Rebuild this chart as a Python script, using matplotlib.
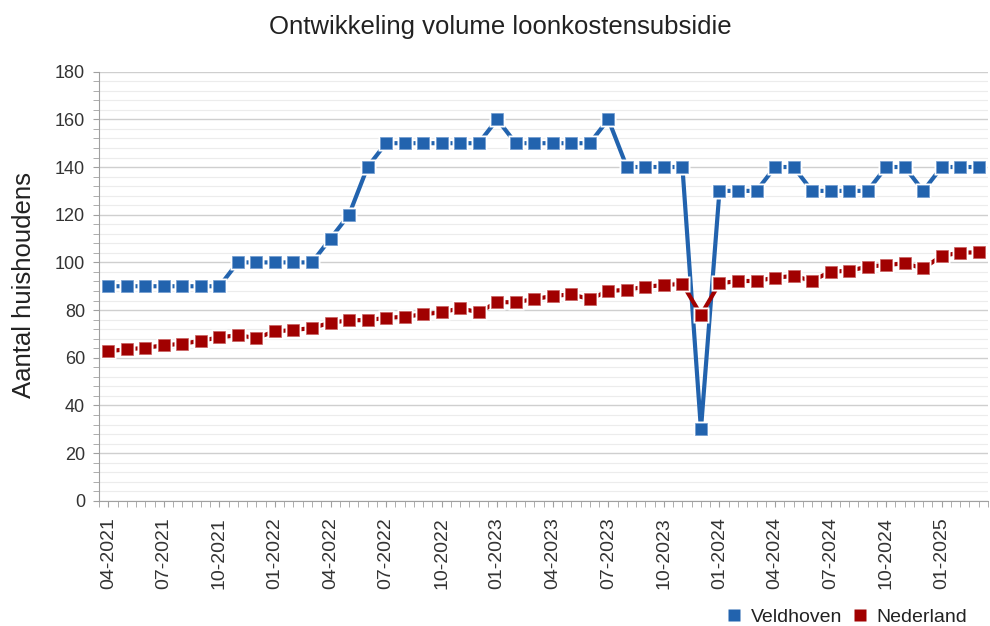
import matplotlib.pyplot as plt
import numpy as np
from matplotlib.lines import Line2D

plt.rcParams['font.family'] = ['Liberation Sans', 'DejaVu Sans']

# maanden 04-2021 t/m 03-2025
months = []
for year in range(2021, 2026):
    for m in range(1, 13):
        if (year, m) >= (2021, 4) and (year, m) <= (2025, 3):
            months.append('%02d-%d' % (m, year))

veldhoven = [90, 90, 90, 90, 90, 90, 90,
             100, 100, 100, 100, 100,
             110, 120, 140,
             150, 150, 150, 150, 150, 150, 160,
             150, 150, 150, 150, 150, 160,
             140, 140, 140, 140, 30,
             130, 130, 130, 140, 140,
             130, 130, 130, 130, 140, 140, 130,
             140, 140, 140]

nederland = [62.8, 63.5, 64.2, 65.2, 65.9, 67.1, 68.6, 69.4, 68.3, 71.1,
             71.6, 72.5, 74.7, 75.7, 75.8, 76.7, 77.2, 78.2, 79.1, 80.7,
             79.1, 83.3, 83.3, 84.6, 85.9, 86.6, 84.6, 88.0, 88.5, 89.8,
             90.5, 91.0, 78.0, 91.2, 92.2, 92.2, 93.6, 94.3, 92.3, 96.1,
             96.5, 98.2, 98.9, 99.6, 97.5, 102.7, 104.1, 104.2]

blue = '#2263ae'
red = '#a10000'

fig = plt.figure(figsize=(9.9, 6.26), dpi=100)
ax = fig.add_axes([0.1, 0.2, 0.898, 0.6855])

x = np.arange(len(months))
for vals, col in [(veldhoven, blue), (nederland, red)]:
    ax.plot(x, vals, color=col, lw=3.0, solid_capstyle='butt', zorder=3)
    # witte rand rond de markers
    ax.plot(x, vals, ls='none', marker='s', ms=11.5, mfc='white', mec='none', zorder=4)
    ax.plot(x, vals, ls='none', marker='s', ms=8.0, mfc=col, mec='#6f9bd0' if col == blue else '#c86060',
            mew=0.5, zorder=5)

ax.set_xlim(-0.5, len(months) - 0.5)
ax.set_ylim(0, 180)

ax.set_yticks(np.arange(0, 181, 20))
ax.set_yticks(np.arange(0, 181, 4), minor=True)
ax.set_xticks(x[::3])
ax.set_xticklabels(months[::3], rotation=90)
ax.set_xticks(np.arange(-0.5, len(months), 0.5), minor=True)

ax.grid(axis='y', which='major', color='#cfcfcf', lw=1.0)
ax.grid(axis='y', which='minor', color='#ececec', lw=0.8)
ax.set_axisbelow(True)

for s in ['top', 'right']:
    ax.spines[s].set_visible(False)
for s in ['left', 'bottom']:
    ax.spines[s].set_color('#a0a0a0')

ax.tick_params(axis='both', which='both', color='#a0a0a0', length=4, direction='out')
ax.tick_params(axis='y', labelsize=13, labelcolor='#333333', pad=6)
ax.tick_params(axis='x', labelsize=14, labelcolor='#333333', pad=8)

fig.text(0.505, 0.957, 'Ontwikkeling volume loonkostensubsidie', ha='center', va='center',
         fontsize=18.5, color='#222222')
fig.text(0.024, 0.545, 'Aantal huishoudens', rotation=90, ha='center', va='center',
         fontsize=18.5, color='#222222')

handles = [Line2D([], [], ls='none', marker='s', ms=9, mfc=blue, mec='none'),
           Line2D([], [], ls='none', marker='s', ms=9, mfc=red, mec='none')]
fig.legend(handles, ['Veldhoven', 'Nederland'], loc='lower right', bbox_to_anchor=(0.995, -0.028),
           ncol=2, frameon=False, fontsize=14, handlelength=0.7, handletextpad=0.5,
           columnspacing=0.6, labelcolor='#222222')

plt.savefig('out.png', dpi=100)
